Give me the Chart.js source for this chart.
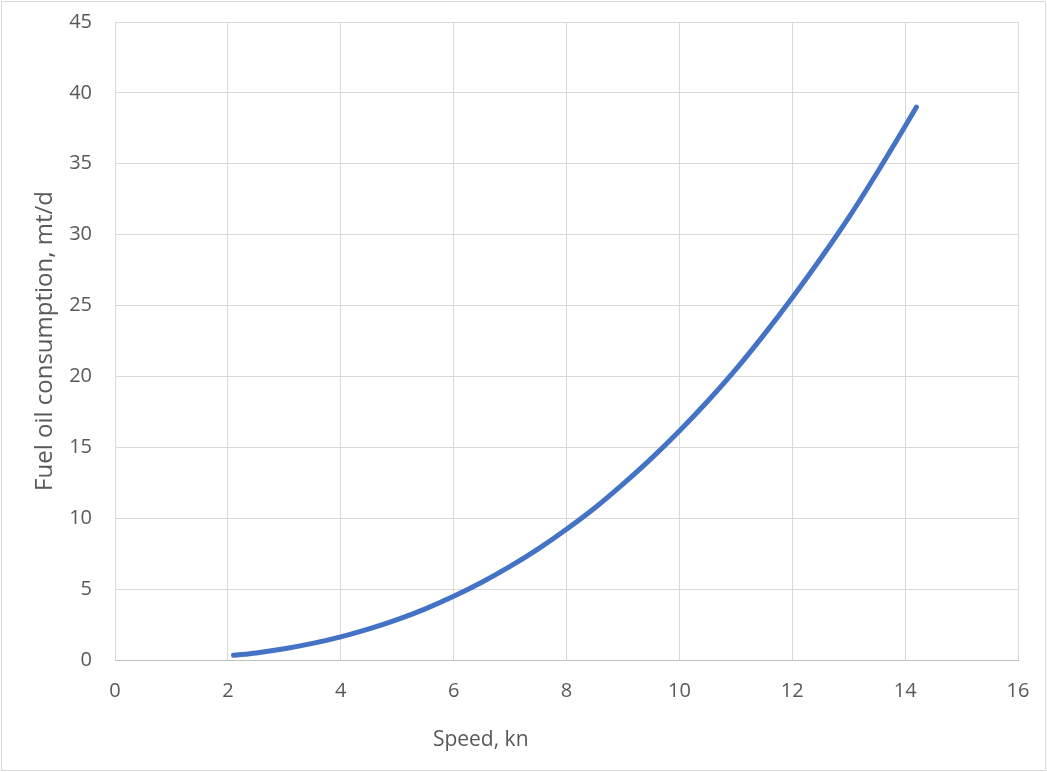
<!DOCTYPE html>
<html>
<head>
<meta charset="utf-8">
<script src="https://cdn.jsdelivr.net/npm/chart.js@4.4.1/dist/chart.umd.min.js"></script>
<style>
  html, body { margin: 0; padding: 0; background: #ffffff; }
  #wrap { width: 1047px; height: 772px; position: relative; }
</style>
</head>
<body>
<div id="wrap"><canvas id="c" width="1047" height="772"></canvas></div>
<script>
// Data
const speedKn = [2.1, 2.5, 3.0, 3.5, 4.0, 4.5, 5.0, 5.5, 6.0, 6.5, 7.0, 7.5, 8.0, 8.5, 9.0, 9.5, 10.0, 10.5, 11.0, 11.5, 12.0, 12.5, 13.0, 13.5, 14.0, 14.2];
const fuelMtPerDay = [0.33, 0.50, 0.79, 1.17, 1.63, 2.19, 2.85, 3.61, 4.49, 5.48, 6.60, 7.84, 9.22, 10.72, 12.40, 14.20, 16.15, 18.25, 20.50, 22.95, 25.55, 28.30, 31.20, 34.35, 37.65, 39.0];
const xTickValues = [0, 2, 4, 6, 8, 10, 12, 14, 16];
const yTickValues = [0, 5, 10, 15, 20, 25, 30, 35, 40, 45];
const xTitle = 'Speed, kn';
const yTitle = 'Fuel oil consumption, mt/d';

const points = speedKn.map((s, i) => ({ x: s, y: fuelMtPerDay[i] }));

const FONT = "'Open Sans', 'Noto Sans', sans-serif";
const TEXT = '#595959';
const GRID = '#d9d9d9';

const decor = {
  id: 'decor',
  beforeDraw(chart) {
    const ctx = chart.ctx;
    ctx.save();
    ctx.fillStyle = '#ffffff';
    ctx.fillRect(0, 0, chart.width, chart.height);
    ctx.restore();
  },
  afterDraw(chart) {
    const ctx = chart.ctx;
    const a = chart.chartArea;
    ctx.save();
    // outer border
    ctx.strokeStyle = GRID;
    ctx.lineWidth = 1;
    ctx.strokeRect(1.5, 1.5, chart.width - 3, chart.height - 3);
    // x axis title
    ctx.fillStyle = TEXT;
    ctx.font = "21px " + FONT;
    ctx.textAlign = 'center';
    ctx.textBaseline = 'middle';
    ctx.fillText(xTitle, a.left + (a.right - a.left) * 0.405, 740);
    ctx.restore();
  }
};

new Chart(document.getElementById('c'), {
  type: 'scatter',
  data: {
    datasets: [{
      data: points,
      showLine: true,
      borderColor: '#4472C4',
      backgroundColor: '#4472C4',
      borderWidth: 5,
      pointRadius: 0,
      cubicInterpolationMode: 'monotone',
      borderCapStyle: 'round',
      borderJoinStyle: 'round'
    }]
  },
  options: {
    responsive: false,
    devicePixelRatio: 1,
    animation: false,
    layout: { padding: { left: 0, top: 22, right: 29, bottom: 0 } },
    plugins: { legend: { display: false }, tooltip: { enabled: false } },
    scales: {
      x: {
        type: 'linear',
        min: 0, max: 16,
        afterBuildTicks(scale) { scale.ticks = xTickValues.map(v => ({ value: v })); },
        afterFit(scale) { scale.height = 112; scale.paddingLeft = 0; scale.paddingRight = 0; },
        grid: { color: GRID, lineWidth: 1, drawTicks: false },
        border: { color: '#bfbfbf', width: 1 },
        ticks: { color: TEXT, font: { family: FONT, size: 20 }, padding: 19, maxRotation: 0 },
        title: { display: false }
      },
      y: {
        type: 'linear',
        min: 0, max: 45,
        afterBuildTicks(scale) { scale.ticks = yTickValues.map(v => ({ value: v })); },
        afterFit(scale) { scale.width = 115; scale.paddingTop = 0; scale.paddingBottom = 0; },
        grid: { color: GRID, lineWidth: 1, drawTicks: false },
        border: { color: GRID, width: 1 },
        ticks: { color: TEXT, font: { family: FONT, size: 20 }, padding: 23 },
        title: { display: true, text: yTitle, color: TEXT, font: { family: FONT, size: 24 }, padding: { top: 31, bottom: 0 } }
      }
    }
  },
  plugins: [decor]
});
</script>
</body>
</html>
